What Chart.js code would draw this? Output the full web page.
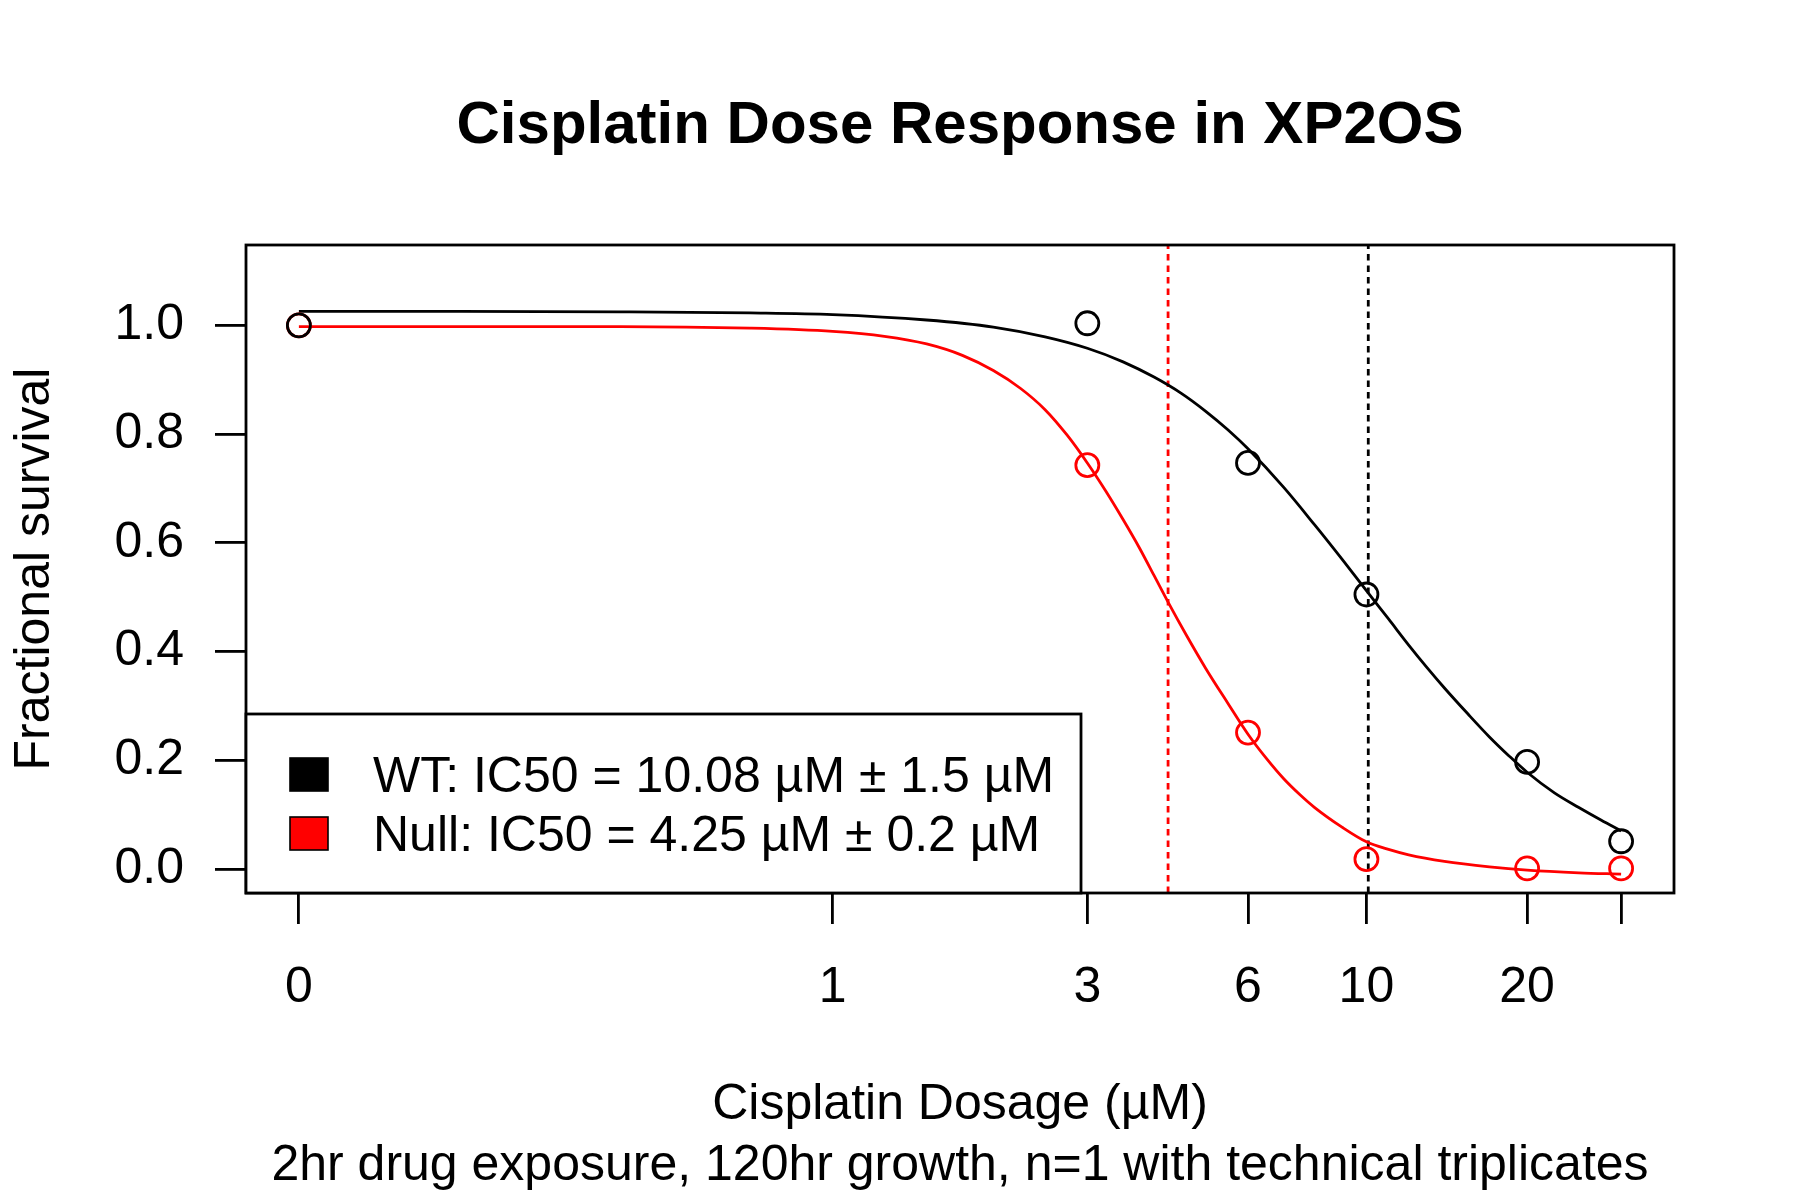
<!DOCTYPE html>
<html>
<head>
<meta charset="utf-8">
<script src="https://cdn.jsdelivr.net/npm/chart.js@4.4.1/dist/chart.umd.min.js"></script>
<style>
  html, body { margin: 0; padding: 0; background: #ffffff; }
  canvas { display: block; }
</style>
</head>
<body>
<canvas id="c" width="1800" height="1200"></canvas>
<script>
// ---------------- data ----------------
const chartTitle = 'Cisplatin Dose Response in XP2OS';
const xTitle = ['Cisplatin Dosage (µM)', '2hr drug exposure, 120hr growth, n=1 with technical triplicates'];
const yTitle = 'Fractional survival';
const seriesColors = ['#000000', '#FF0000'];
const legendLabels = ['WT: IC50 = 10.08 µM ± 1.5 µM', 'Null: IC50 = 4.25 µM ± 0.2 µM'];
const ic50 = [10.08, 4.25];

// measured points (dose in µM, fractional survival)
const doses = [0, 3, 6, 10, 20, 30];
const wtSurvival = [1.000, 1.004, 0.747, 0.505, 0.197, 0.051];
const nullSurvival = [1.000, 0.743, 0.251, 0.018, 0.001, 0.001];

// fitted curves
const wtCurveDoses = [0, 0.2, 0.4, 0.7, 1, 1.5, 2, 2.5, 3, 3.5, 4, 4.5, 5, 5.5, 6, 7, 8, 9, 10, 11, 12, 13, 14, 15.5, 17, 18.5, 20, 22.5, 25, 27.5, 30];
const wtCurve = [1.026, 1.026, 1.025, 1.023, 1.020, 1.010, 0.997, 0.979, 0.958, 0.933, 0.905, 0.875, 0.842, 0.808, 0.773, 0.702, 0.633, 0.570, 0.512, 0.460, 0.412, 0.370, 0.333, 0.285, 0.243, 0.208, 0.178, 0.140, 0.113, 0.090, 0.070];
const nullCurveDoses = [0, 0.2, 0.4, 0.7, 1, 1.25, 1.5, 1.75, 2, 2.25, 2.5, 2.75, 3, 3.25, 3.5, 3.75, 4, 4.25, 4.6, 5, 5.5, 6, 6.5, 7, 7.5, 8, 9, 10, 11, 12, 14, 17, 20, 25, 30];
const nullCurve = [0.998, 0.998, 0.998, 0.995, 0.989, 0.980, 0.966, 0.945, 0.917, 0.884, 0.845, 0.798, 0.747, 0.695, 0.643, 0.592, 0.540, 0.491, 0.430, 0.369, 0.305, 0.248, 0.203, 0.166, 0.137, 0.113, 0.077, 0.050, 0.036, 0.026, 0.014, 0.004, -0.002, -0.007, -0.0095];

// axis ticks
const xTickDoses = [0, 1, 3, 6, 10, 20, 30];
const xTickLabels = ['0', '1', '3', '6', '10', '20', ''];
const yTicks = [0, 0.2, 0.4, 0.6, 0.8, 1.0];
const yTickLabels = ['0.0', '0.2', '0.4', '0.6', '0.8', '1.0'];

// axis limits (dose 0 is drawn at 0.1 on the log axis)
const ZERO_POS = 0.1;
const X_MIN = 0.0796, X_MAX = 37.69;
const Y_MIN = -0.0442, Y_MAX = 1.148;

// ---------------- chart ----------------
const FONT = '"Liberation Sans", Arial, Helvetica, sans-serif';
const LW = 2.8;
const pos = d => (d === 0 ? ZERO_POS : d);
const mk = (xs, ys) => xs.map((d, i) => ({ x: pos(d), y: ys[i] }));

Chart.defaults.color = '#000000';
Chart.defaults.font.family = FONT;

const rFrameAndLegend = {
  id: 'rFrameAndLegend',
  afterDraw(chart) {
    const ctx = chart.ctx;
    const a = chart.chartArea;
    ctx.save();
    // plot frame
    ctx.lineWidth = LW;
    ctx.strokeStyle = '#000';
    ctx.strokeRect(a.left, a.top, a.right - a.left, a.bottom - a.top);
    // legend box (bottom-left)
    const bx = a.left, by = 714, bw = 1081 - a.left, bh = a.bottom - 714;
    ctx.fillStyle = '#ffffff';
    ctx.fillRect(bx, by, bw, bh);
    ctx.lineWidth = LW;
    ctx.strokeRect(bx, by, bw, bh);
    const rowBase = [792, 851];
    const boxTop = [758, 817];
    ctx.font = '50px ' + FONT;
    ctx.textBaseline = 'alphabetic';
    ctx.textAlign = 'left';
    for (let i = 0; i < legendLabels.length; i++) {
      ctx.fillStyle = seriesColors[i];
      ctx.fillRect(290, boxTop[i], 38, 33);
      ctx.lineWidth = 1.6;
      ctx.strokeStyle = '#000';
      ctx.strokeRect(290, boxTop[i], 38, 33);
      ctx.fillStyle = '#000';
      ctx.fillText(legendLabels[i], 373, rowBase[i]);
    }
    ctx.restore();
  }
};

new Chart(document.getElementById('c'), {
  type: 'line',
  data: {
    datasets: [
      {
        label: 'WT points', data: mk(doses, wtSurvival), showLine: false,
        pointRadius: 11.5, pointBorderWidth: LW, pointBorderColor: seriesColors[0],
        pointBackgroundColor: 'rgba(0,0,0,0)', borderColor: seriesColors[0]
      },
      {
        label: 'Null points', data: mk(doses, nullSurvival), showLine: false,
        pointRadius: 11.5, pointBorderWidth: LW, pointBorderColor: seriesColors[1],
        pointBackgroundColor: 'rgba(0,0,0,0)', borderColor: seriesColors[1]
      },
      {
        label: 'WT fit', data: mk(wtCurveDoses, wtCurve), borderColor: seriesColors[0],
        borderWidth: LW, pointRadius: 0, cubicInterpolationMode: 'monotone', fill: false
      },
      {
        label: 'Null fit', data: mk(nullCurveDoses, nullCurve), borderColor: seriesColors[1],
        borderWidth: LW, pointRadius: 0, cubicInterpolationMode: 'monotone', fill: false
      },
      {
        label: 'WT IC50', data: [{ x: ic50[0], y: Y_MIN }, { x: ic50[0], y: Y_MAX }],
        borderColor: seriesColors[0], borderWidth: LW, borderDash: [6.5, 5], pointRadius: 0, fill: false
      },
      {
        label: 'Null IC50', data: [{ x: ic50[1], y: Y_MIN }, { x: ic50[1], y: Y_MAX }],
        borderColor: seriesColors[1], borderWidth: LW, borderDash: [6.5, 5], pointRadius: 0, fill: false
      }
    ]
  },
  options: {
    responsive: false,
    devicePixelRatio: 1,
    animation: false,
    events: [],
    layout: { padding: { top: 0, left: 0, right: 126, bottom: 0 } },
    plugins: {
      legend: { display: false },
      tooltip: { enabled: false },
      title: {
        display: true, text: chartTitle, fullSize: false, color: '#000',
        font: { family: FONT, size: 60, weight: 'bold', lineHeight: 1.2 },
        padding: { top: 90.5, bottom: 82.5 }
      }
    },
    scales: {
      x: {
        type: 'logarithmic', min: X_MIN, max: X_MAX,
        border: { display: false },
        grid: { display: true, drawOnChartArea: false, drawTicks: true, tickLength: 31, color: '#000', lineWidth: LW },
        afterBuildTicks: (scale) => { scale.ticks = xTickDoses.map(d => ({ value: pos(d) })); },
        afterFit: (scale) => { scale.height = 307; },
        ticks: {
          autoSkip: false, maxRotation: 0, minRotation: 0, padding: 34, color: '#000',
          font: { family: FONT, size: 50, lineHeight: 1.2 },
          callback: (value, index) => xTickLabels[index]
        },
        title: {
          display: true, text: xTitle, color: '#000',
          font: { family: FONT, size: 50, lineHeight: 1.22 },
          padding: { top: 0, bottom: 3 }
        }
      },
      y: {
        type: 'linear', min: Y_MIN, max: Y_MAX,
        border: { display: false },
        grid: { display: true, drawOnChartArea: false, drawTicks: true, tickLength: 31, color: '#000', lineWidth: LW },
        afterBuildTicks: (scale) => { scale.ticks = yTicks.map(v => ({ value: v })); },
        afterFit: (scale) => { scale.width = 246; },
        ticks: {
          autoSkip: false, padding: 31, color: '#000',
          font: { family: FONT, size: 50, lineHeight: 1.2 },
          callback: (value, index) => yTickLabels[index]
        },
        title: {
          display: true, text: yTitle, color: '#000',
          font: { family: FONT, size: 50, lineHeight: 1.2 },
          padding: { top: 5.5, bottom: 0 }
        }
      }
    }
  },
  plugins: [rFrameAndLegend]
});
</script>
</body>
</html>
